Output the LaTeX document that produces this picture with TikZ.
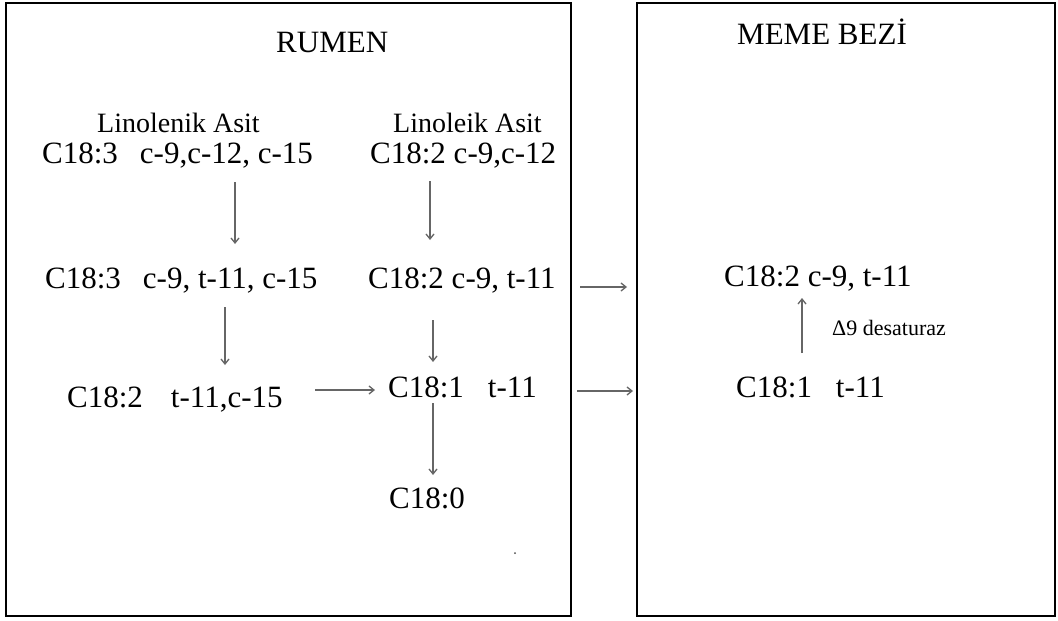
\documentclass[tikz,border=0pt]{standalone}
\usepackage{fontspec}
\setmainfont{Liberation Serif}
\usetikzlibrary{arrows.meta}
\begin{document}
\begin{tikzpicture}[x=1pt,y=-1pt,
  txt/.style={inner sep=0pt, anchor=base west, font=\fontsize{31}{36}\selectfont},
  acid/.style={inner sep=0pt, anchor=base west, font=\fontsize{28}{34}\selectfont},
  small/.style={inner sep=0pt, anchor=base west, font=\fontsize{22}{26}\selectfont},
  panel/.style={draw=black, line width=2pt, inner sep=0pt},
  arr/.style={draw=black!60, line width=1.3pt, -{Straight Barb[length=5pt,width=8pt]}}]
\useasboundingbox (0,0) rectangle (1058,621);
\fill[white] (0,0) rectangle (1058,621);
% panels
\node[panel, minimum width=565pt, minimum height=613pt] (rumen) at (288.5,309.5) {};
\node[panel, minimum width=418pt, minimum height=613pt] (meme) at (846,309.5) {};
% titles
\node[txt] (t1) at (276,52) {RUMEN};
\node[txt] (t2) at (737,44) {MEME BEZİ};
% rumen
\node[acid] (la) at (97,132) {Linolenik Asit};
\node[acid] (lo) at (393,132) {Linoleik Asit};
\node[txt] (a1) at (42,163) {C18:3\hspace{22pt}c-9,c-12, c-15};
\node[txt] (b1) at (370,163) {C18:2 c-9,c-12};
\node[txt] (a2) at (45,288) {C18:3\hspace{22pt}c-9, t-11, c-15};
\node[txt] (b2) at (368,288) {C18:2 c-9, t-11};
\node[txt] (a3) at (67,407) {C18:2\hspace{28pt}t-11,c-15};
\node[txt] (b3) at (388,397) {C18:1\hspace{24pt}t-11};
\node[txt] (b4) at (389,508) {C18:0};
% meme bezi
\node[txt] (m1) at (724,286) {C18:2 c-9, t-11};
\node[small] (d9) at (832,335) {Δ9 desaturaz};
\node[txt] (m2) at (736,397) {C18:1\hspace{24pt}t-11};
% arrow end points
\coordinate (p1s) at (235,182); \coordinate (p1e) at (235,244);
\coordinate (p2s) at (430,181); \coordinate (p2e) at (430,240);
\coordinate (p3s) at (225,307); \coordinate (p3e) at (225,365);
\coordinate (p4s) at (433,320); \coordinate (p4e) at (433,362);
\coordinate (p5s) at (433,403); \coordinate (p5e) at (433,475);
\coordinate (p6s) at (315,390); \coordinate (p6e) at (375,390);
\coordinate (p7s) at (580,287); \coordinate (p7e) at (627,287);
\coordinate (p8s) at (577,391); \coordinate (p8e) at (633,391);
\coordinate (p9s) at (802,353); \coordinate (p9e) at (802,298);
\draw[arr] (p1s) -- (p1e);
\draw[arr] (p2s) -- (p2e);
\draw[arr] (p3s) -- (p3e);
\draw[arr] (p4s) -- (p4e);
\draw[arr] (p5s) -- (p5e);
\draw[arr] (p6s) -- (p6e);
\draw[arr] (p7s) -- (p7e);
\draw[arr] (p8s) -- (p8e);
\draw[arr] (p9s) -- (p9e);
\fill[black!70] (515,553) circle (1pt);
\end{tikzpicture}
\end{document}
